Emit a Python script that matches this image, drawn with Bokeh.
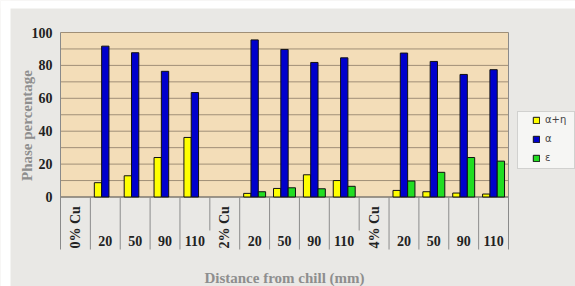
import math
from bokeh.plotting import figure
from bokeh.models import (ColumnDataSource, Legend, LegendItem, BoxAnnotation)
from bokeh.core.properties import value
from bokeh.embed import file_html
from bokeh.resources import INLINE

# ---- data -------------------------------------------------------------
categories = ["0% Cu", "20", "50", "90", "110",
              "2% Cu", "20", "50", "90", "110",
              "4% Cu", "20", "50", "90", "110"]
group_slots = [0, 5, 10]          # slots that carry the composition label
alpha_eta = [None, 8.7, 12.9, 24.0, 36.2,
             None, 2.2, 5.2, 13.5, 10.0,
             None, 4.0, 3.2, 2.4, 1.8]
alpha = [None, 91.7, 87.7, 76.4, 63.5,
         None, 95.5, 89.7, 81.8, 84.6,
         None, 87.5, 82.4, 74.5, 77.4]
epsilon = [None, 0, 0, 0, 0,
           None, 3.2, 5.6, 5.0, 6.5,
           None, 9.7, 15.0, 24.0, 21.8]
series_names = ["α+η", "α", "ε"]
y_ticks = [0, 20, 40, 60, 80, 100]
grid_ticks = list(range(0, 101, 10))

# ---- layout (page pixels) --------------------------------------------
W, H = 575, 286
PL, PR = 60, 508          # plot-area left / right
PT, P0 = 32, 196.5        # y of 100 and of 0
n = len(categories)
SX = (PR - PL) / n
SY = (P0 - PT) / 100.0


def dx(px):
    return (px - PL) / SX


def dy(py):
    return (P0 - py) / SY


BG = "#e9e8e5"
TAN = "#f3ddb8"
GRID = "#a08f77"
SERIF = "Liberation Serif"
colors = ["#ffff00", "#0000cc", "#22dd22"]
bar_w = 0.245
offsets = [-bar_w, 0.0, bar_w]
table_bottom = dy(249)

p = figure(width=W, height=H, x_range=(dx(0), dx(W)), y_range=(dy(H), dy(0)),
           output_backend="svg", toolbar_location=None, min_border=0,
           background_fill_color=BG, border_fill_color=BG,
           outline_line_color=None)
p.axis.visible = False
p.grid.visible = False

# white paper edges (top and left) of the scanned figure
p.add_layout(BoxAnnotation(top=dy(0), bottom=dy(8), fill_color="white",
                           fill_alpha=1.0, line_color=None, level="image"))
p.add_layout(BoxAnnotation(left=dx(0), right=dx(10), fill_color="white",
                           fill_alpha=1.0, line_color=None, level="image"))

# plot area (tan) and grid
p.add_layout(BoxAnnotation(left=0, right=n, bottom=0, top=100,
                           fill_color=TAN, fill_alpha=1.0,
                           line_color=None, level="image"))
p.segment(x0=[0] * len(grid_ticks), y0=grid_ticks,
          x1=[n] * len(grid_ticks), y1=grid_ticks,
          line_color=GRID, line_width=1)
p.segment(x0=[0], y0=[0], x1=[n], y1=[0], line_color="#6e6e6e", line_width=1)
# left axis line and right border
p.segment(x0=[0, n], y0=[table_bottom, table_bottom], x1=[0, n],
          y1=[100, 100], line_color="#8a8a8a", line_width=1)

# bars
renderers = []
for vals, col, off in zip([alpha_eta, alpha, epsilon], colors, offsets):
    xs, tops = [], []
    for i, v in enumerate(vals):
        if v:
            xs.append(i + 0.5 + off)
            tops.append(v)
    src = ColumnDataSource(dict(x=xs, top=tops))
    r = p.vbar(x="x", top="top", bottom=0, width=bar_w, source=src,
               fill_color=col, line_color="#111111", line_width=1)
    renderers.append(r)

# category table below the axis
sep_x = list(range(1, n))
sep_y1 = [dy(230) if i in group_slots else table_bottom for i in sep_x]
p.segment(x0=sep_x, y0=[0] * len(sep_x), x1=sep_x, y1=sep_y1,
          line_color="#8c8c8c", line_width=1)

num_x = [i + 0.5 for i, c in enumerate(categories) if i not in group_slots]
num_t = [c for i, c in enumerate(categories) if i not in group_slots]
p.text(x=num_x, y=[dy(240)] * len(num_x), text=num_t,
       text_font=value(SERIF), text_font_style="bold",
       text_font_size="14px", text_color="#222222",
       text_align="center", text_baseline="middle")
grp_x = [i + 0.5 for i in group_slots]
grp_t = [categories[i] for i in group_slots]
p.text(x=grp_x, y=[dy(248)] * len(grp_x), text=grp_t, angle=math.pi / 2,
       text_font=value(SERIF), text_font_style="bold",
       text_font_size="14px", text_color="#222222",
       text_align="left", text_baseline="middle")

# y tick labels
p.text(x=[dx(52)] * len(y_ticks), y=y_ticks, text=[str(t) for t in y_ticks],
       text_font=value(SERIF), text_font_style="bold",
       text_font_size="14px", text_color="#222222",
       text_align="right", text_baseline="middle")

# axis titles
p.text(x=[dx(26)], y=[dy(125)], text=["Phase percentage"], angle=math.pi / 2,
       text_font=value(SERIF), text_font_style="bold",
       text_font_size="15px", text_color="#8e8e8e",
       text_align="center", text_baseline="middle")
p.text(x=[n / 2], y=[dy(277)], text=["Distance from chill (mm)"],
       text_font=value(SERIF), text_font_style="bold",
       text_font_size="15px", text_color="#8e8e8e",
       text_align="center", text_baseline="middle")

# legend box + legend
p.add_layout(BoxAnnotation(left=dx(517), right=dx(574), top=dy(111),
                           bottom=dy(168), fill_color="#f6f6f4",
                           fill_alpha=1.0, line_color="#8a8a8a",
                           line_width=1))
legend = Legend(items=[LegendItem(label=nm, renderers=[r])
                       for nm, r in zip(series_names, renderers)],
                location=(532, H - 163), orientation="vertical",
                background_fill_alpha=0.0, border_line_color=None,
                label_text_font="DejaVu Sans", label_text_font_size="10px",
                label_text_color="#444444", glyph_width=8, glyph_height=8,
                label_standoff=5, spacing=8, padding=0, margin=0,
                label_height=10)
p.add_layout(legend, "center")

open("out.html", "w").write(file_html(p, INLINE))
